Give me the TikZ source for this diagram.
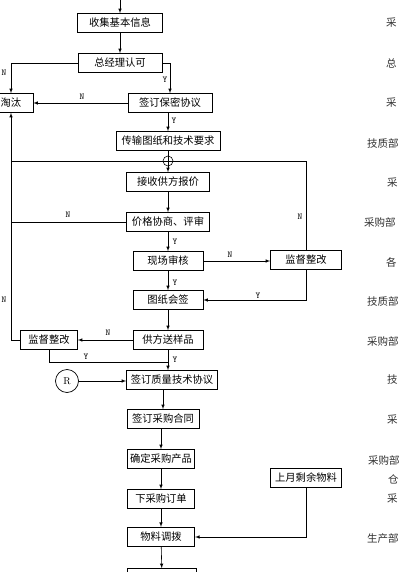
\documentclass[tikz,border=0pt]{standalone}
\usepackage{fontspec}
\newfontfamily\cjk{Noto Sans CJK SC}
\usetikzlibrary{arrows}

\begin{document}
\begin{tikzpicture}[x=1pt,y=-1pt]
		\tikzset{box/.style={draw, line width=0.7pt, inner sep=0pt, minimum height=19pt, font=\cjk\fontsize{10.3}{12}\selectfont}};
		\tikzset{flow/.style={->, >=latex, line width=0.6pt}};
		\tikzset{yn/.style={inner sep=0pt, font=\ttfamily\fontsize{9}{10}\selectfont}};
		\tikzset{dept/.style={anchor=west, inner sep=0pt, font=\cjk\fontsize{10.5}{12}\selectfont, text=black!80}};
		\clip (0,0) rectangle (400,572);
		\fill[white] (0,0) rectangle (400,572);

		% main column
		\node[box, minimum width=85pt] (info) at (120,23) {收集基本信息};
		\node[box, minimum width=84pt] (gm) at (120,63) {总经理认可};
		\node[box, minimum width=44pt] (out) at (11,103) {淘汰};
		\node[box, minimum width=84pt] (nda) at (170,103) {签订保密协议};
		\node[box, minimum width=104pt] (send) at (168,141) {传输图纸和技术要求};
		\node[box, minimum width=83pt] (quote) at (168,182) {接收供方报价};
		\node[box, minimum width=83pt] (price) at (168,222) {价格协商、评审};
		\node[box, minimum width=70pt] (audit) at (168,261) {现场审核};
		\node[box, minimum width=71pt] (supv1) at (306,260) {监督整改};
		\node[box, minimum width=70pt] (sign) at (168,300) {图纸会签};
		\node[box, minimum width=70pt] (sample) at (168,340) {供方送样品};
		\node[box, minimum width=57pt] (supv2) at (49,340) {监督整改};
		\node[box, minimum width=91pt] (qual) at (172,380) {签订质量技术协议};
		\node[draw, circle, line width=0.7pt, minimum size=23pt, inner sep=0pt] (mark) at (67,381) {R};
		\node[box, minimum width=72pt] (contract) at (163,419) {签订采购合同};
		\node[box, minimum width=67pt] (product) at (161,459) {确定采购产品};
		\node[box, minimum width=67pt] (order) at (161,499) {下采购订单};
		\node[box, minimum width=67pt, line width=1.1pt] (alloc) at (161,537) {物料调拨};
		\node[box, minimum width=71pt] (rest) at (306,478) {上月剩余物料};
		\node[box, minimum width=69pt] (next) at (162,578) {};

		\coordinate (start) at (120,0);
		\coordinate (ltop) at (12,161);
		\coordinate (rtop) at (307,161);
		\coordinate (merge) at (168,362);

		% connectors
		\draw[flow] (start) -- (info);
		\draw[flow] (info) -- (gm);
		\draw[flow] (gm.west) -| (out.north);
		\draw[flow] (gm.east) -| (nda.north);
		\draw[flow] (nda.west) -- (out.east);
		\draw[flow] (nda.south -| send.north) -- (send.north);
		\draw[line width=0.6pt] (supv1.north) |- (ltop);
		\draw[flow] (supv2.west) -| (out.south);
		\draw[flow] (send.south) -- (quote.north);
		\node[draw, circle, line width=0.6pt, minimum size=10pt, inner sep=0pt] (junc) at (168,161) {};
		\draw[flow] (quote) -- (price);
		\draw[line width=0.6pt] (price.west) -- (price.west -| ltop);
		\draw[flow] (price) -- (audit);
		\draw[flow] (audit.east) -- (audit.east -| supv1.west);
		\draw[flow] (supv1.south) |- (sign.east);
		\draw[flow] (audit) -- (sign);
		\draw[flow] (sign) -- (sample);
		\draw[flow] (sample.west) -- (supv2.east);
		\draw[line width=0.6pt] (supv2.south) |- (merge);
		\draw[flow] (sample.south) -- (sample.south |- qual.north);
		\draw[flow] (mark.east) -- (qual.west |- mark.east);
		\draw[flow] (qual.south -| contract.north) -- (contract.north);
		\draw[flow] (contract.south -| product.north) -- (product.north);
		\draw[flow] (product) -- (order);
		\draw[flow] (order) -- (alloc);
		\draw[flow] (rest.south) |- (alloc.east);
		\draw[flow] (alloc) -- (next);

		% Y / N labels
		\node[yn] (n1) at (4,73) {N};
		\node[yn] (y1) at (165,80) {Y};
		\node[yn] (n2) at (82,97) {N};
		\node[yn] (y2) at (174,121) {Y};
		\node[yn] (n3) at (68,215) {N};
		\node[yn] (y3) at (175,242) {Y};
		\node[yn] (n4) at (300,217) {N};
		\node[yn] (n5) at (230,255) {N};
		\node[yn] (y4) at (175,283) {Y};
		\node[yn] (y5) at (258,296) {Y};
		\node[yn] (n6) at (4,300) {N};
		\node[yn] (n7) at (108,333) {N};
		\node[yn] (y6) at (86,357) {Y};
		\node[yn] (y7) at (175,360) {Y};

		% departments
		\node[dept] (d1) at (386,23) {采};
		\node[dept] (d2) at (386,63) {总};
		\node[dept] (d3) at (386,103) {采};
		\node[dept] (d4) at (367,143) {技质部};
		\node[dept] (d5) at (387,183) {采};
		\node[dept] (d6) at (364,222) {采购部};
		\node[dept] (d7) at (386,262) {各};
		\node[dept] (d8) at (367,301) {技质部};
		\node[dept] (d9) at (367,341) {采购部};
		\node[dept] (d10) at (387,380) {技};
		\node[dept] (d11) at (387,420) {采};
		\node[dept] (d12) at (368,460) {采购部};
		\node[dept] (d13) at (388,479) {仓};
		\node[dept] (d14) at (387,499) {采};
		\node[dept] (d15) at (367,539) {生产部};
	\end{tikzpicture}
\end{document}
